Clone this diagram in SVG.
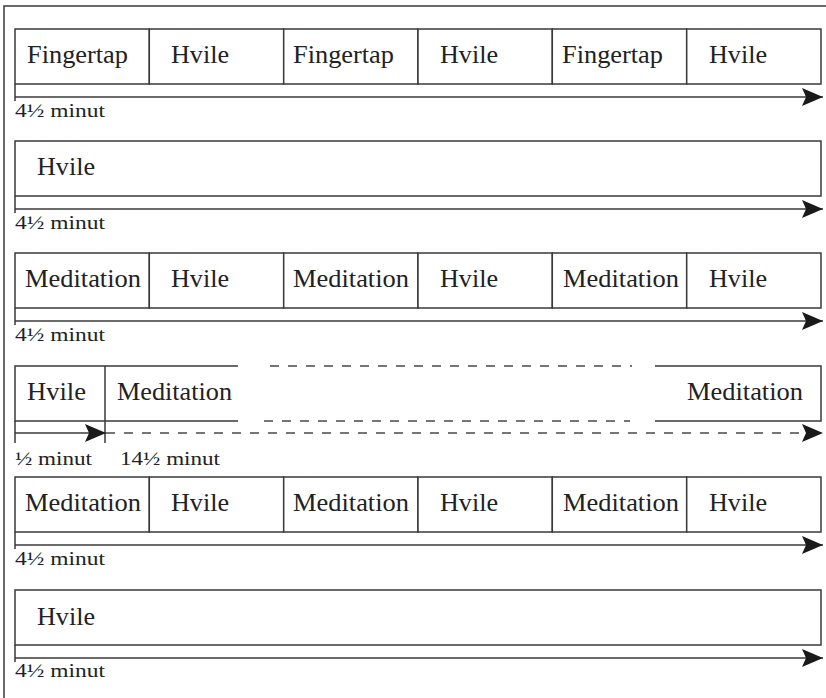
<svg xmlns="http://www.w3.org/2000/svg" width="826" height="698" viewBox="0 0 826 698">
  <style>
    .cell { fill: #ffffff; stroke: #3a3a3a; stroke-width: 1.5; }
    .edge { fill: none; stroke: #3a3a3a; stroke-width: 1.5; }
    .dash { fill: none; stroke: #4a4a4a; stroke-width: 1.5; stroke-dasharray: 9 9; }
    .axis { fill: none; stroke: #3a3a3a; stroke-width: 1.6; }
    text { font-family: 'Liberation Serif', 'Times New Roman', Times, serif; fill: #222222; }
    .lbl { font-size: 25px; }
    .dur { font-size: 19px; }
  </style>
  <defs>
    <marker id="head" markerUnits="userSpaceOnUse" markerWidth="22" markerHeight="20" refX="21" refY="10" orient="auto">
      <path d="M0,1 L21,10 L0,19 L4,10 Z" fill="#1a1a1a"/>
    </marker>
  </defs>

  <rect width="826" height="698" fill="#ffffff"/>
  <!-- outer frame -->
  <path class="edge" d="M4,698 V6 H826"/>

  <g font-family="Liberation Serif, serif">
  <!-- row 1 -->
  <g id="r1-fingertap-1"><rect class="cell" x="15" y="29" width="134.3" height="55"/><text class="lbl" x="27" y="63" textLength="101" lengthAdjust="spacingAndGlyphs">Fingertap</text></g>
  <g id="r1-hvile-1"><rect class="cell" x="149.3" y="29" width="134.4" height="55"/><text class="lbl" x="171" y="63" textLength="58" lengthAdjust="spacingAndGlyphs">Hvile</text></g>
  <g id="r1-fingertap-2"><rect class="cell" x="283.7" y="29" width="134.3" height="55"/><text class="lbl" x="293" y="63" textLength="101" lengthAdjust="spacingAndGlyphs">Fingertap</text></g>
  <g id="r1-hvile-2"><rect class="cell" x="418" y="29" width="134.3" height="55"/><text class="lbl" x="440" y="63" textLength="58" lengthAdjust="spacingAndGlyphs">Hvile</text></g>
  <g id="r1-fingertap-3"><rect class="cell" x="552.3" y="29" width="134.4" height="55"/><text class="lbl" x="562" y="63" textLength="101" lengthAdjust="spacingAndGlyphs">Fingertap</text></g>
  <g id="r1-hvile-3"><rect class="cell" x="686.7" y="29" width="134.3" height="55"/><text class="lbl" x="709" y="63" textLength="58" lengthAdjust="spacingAndGlyphs">Hvile</text></g>
  <g id="r1-duration"><text class="dur" x="15" y="117" textLength="90" lengthAdjust="spacingAndGlyphs">4½ minut</text></g>

  <!-- row 2 -->
  <g id="r2-hvile"><rect class="cell" x="15" y="141" width="806" height="55"/><text class="lbl" x="37" y="175" textLength="58" lengthAdjust="spacingAndGlyphs">Hvile</text></g>
  <g id="r2-duration"><text class="dur" x="15" y="229" textLength="90" lengthAdjust="spacingAndGlyphs">4½ minut</text></g>

  <!-- row 3 -->
  <g id="r3-meditation-1"><rect class="cell" x="15" y="253" width="134.3" height="55"/><text class="lbl" x="25" y="287" textLength="116" lengthAdjust="spacingAndGlyphs">Meditation</text></g>
  <g id="r3-hvile-1"><rect class="cell" x="149.3" y="253" width="134.4" height="55"/><text class="lbl" x="171" y="287" textLength="58" lengthAdjust="spacingAndGlyphs">Hvile</text></g>
  <g id="r3-meditation-2"><rect class="cell" x="283.7" y="253" width="134.3" height="55"/><text class="lbl" x="293" y="287" textLength="116" lengthAdjust="spacingAndGlyphs">Meditation</text></g>
  <g id="r3-hvile-2"><rect class="cell" x="418" y="253" width="134.3" height="55"/><text class="lbl" x="440" y="287" textLength="58" lengthAdjust="spacingAndGlyphs">Hvile</text></g>
  <g id="r3-meditation-3"><rect class="cell" x="552.3" y="253" width="134.4" height="55"/><text class="lbl" x="563" y="287" textLength="116" lengthAdjust="spacingAndGlyphs">Meditation</text></g>
  <g id="r3-hvile-3"><rect class="cell" x="686.7" y="253" width="134.3" height="55"/><text class="lbl" x="709" y="287" textLength="58" lengthAdjust="spacingAndGlyphs">Hvile</text></g>
  <g id="r3-duration"><text class="dur" x="15" y="341" textLength="90" lengthAdjust="spacingAndGlyphs">4½ minut</text></g>

  <!-- row 4: short rest, then a long meditation block broken in the middle -->
  <g id="r4-hvile"><rect class="cell" x="15" y="366" width="90" height="55"/><text class="lbl" x="27" y="400" textLength="59" lengthAdjust="spacingAndGlyphs">Hvile</text></g>
  <g id="r4-meditation-start"><path class="edge" d="M105,366 H238 M105,421 H238"/><text class="lbl" x="117" y="400" textLength="115" lengthAdjust="spacingAndGlyphs">Meditation</text></g>
  <g id="r4-meditation-gap"><path class="dash" d="M270,366 H632 M264,421 H630"/></g>
  <g id="r4-meditation-end"><path class="edge" d="M655,366 H821 V421 H655"/><text class="lbl" x="687" y="400" textLength="116" lengthAdjust="spacingAndGlyphs">Meditation</text></g>
  <g id="r4-duration-rest"><text class="dur" x="15" y="465" textLength="77" lengthAdjust="spacingAndGlyphs">½ minut</text></g>
  <g id="r4-duration-meditation"><text class="dur" x="120" y="465" textLength="100" lengthAdjust="spacingAndGlyphs">14½ minut</text></g>

  <!-- row 5 -->
  <g id="r5-meditation-1"><rect class="cell" x="15" y="477" width="134.3" height="55"/><text class="lbl" x="25" y="511" textLength="116" lengthAdjust="spacingAndGlyphs">Meditation</text></g>
  <g id="r5-hvile-1"><rect class="cell" x="149.3" y="477" width="134.4" height="55"/><text class="lbl" x="171" y="511" textLength="58" lengthAdjust="spacingAndGlyphs">Hvile</text></g>
  <g id="r5-meditation-2"><rect class="cell" x="283.7" y="477" width="134.3" height="55"/><text class="lbl" x="293" y="511" textLength="116" lengthAdjust="spacingAndGlyphs">Meditation</text></g>
  <g id="r5-hvile-2"><rect class="cell" x="418" y="477" width="134.3" height="55"/><text class="lbl" x="440" y="511" textLength="58" lengthAdjust="spacingAndGlyphs">Hvile</text></g>
  <g id="r5-meditation-3"><rect class="cell" x="552.3" y="477" width="134.4" height="55"/><text class="lbl" x="563" y="511" textLength="116" lengthAdjust="spacingAndGlyphs">Meditation</text></g>
  <g id="r5-hvile-3"><rect class="cell" x="686.7" y="477" width="134.3" height="55"/><text class="lbl" x="709" y="511" textLength="58" lengthAdjust="spacingAndGlyphs">Hvile</text></g>
  <g id="r5-duration"><text class="dur" x="15" y="565" textLength="90" lengthAdjust="spacingAndGlyphs">4½ minut</text></g>

  <!-- row 6 -->
  <g id="r6-hvile"><rect class="cell" x="15" y="590" width="806" height="55"/><text class="lbl" x="37" y="625" textLength="58" lengthAdjust="spacingAndGlyphs">Hvile</text></g>
  <g id="r6-duration"><text class="dur" x="15" y="677" textLength="90" lengthAdjust="spacingAndGlyphs">4½ minut</text></g>
  </g>

  <!-- time axes -->
  <g id="connectors">
    <path class="edge" d="M15,84 V101 M15,196 V213 M15,308 V325 M15,421 V443 M105,421 V443 M15,532 V549 M15,645 V662"/>
    <line class="axis" x1="15" y1="97" x2="823" y2="97" marker-end="url(#head)"/>
    <line class="axis" x1="15" y1="209" x2="823" y2="209" marker-end="url(#head)"/>
    <line class="axis" x1="15" y1="321" x2="823" y2="321" marker-end="url(#head)"/>
    <line class="axis" x1="15" y1="433" x2="106" y2="433" marker-end="url(#head)"/>
    <line class="dash" x1="106" y1="433" x2="823" y2="433" marker-end="url(#head)"/>
    <line class="axis" x1="15" y1="545" x2="823" y2="545" marker-end="url(#head)"/>
    <line class="axis" x1="15" y1="658" x2="823" y2="658" marker-end="url(#head)"/>
  </g>
</svg>
